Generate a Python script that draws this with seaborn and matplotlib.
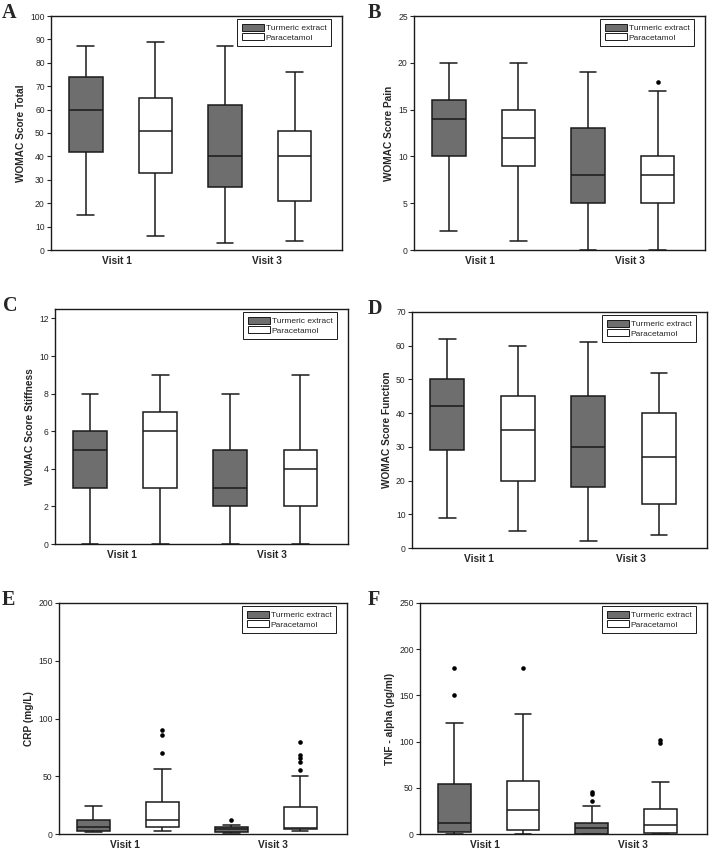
import matplotlib
matplotlib.use("Agg")
import pandas as pd
import matplotlib.pyplot as plt
from matplotlib.patches import Patch
import seaborn as sns

# Groups / categories
GROUPS = ["Turmeric extract", "Paracetamol"]
VISITS = ["Visit 1", "Visit 3"]
BOXES = ["V1 Turmeric", "V1 Paracetamol", "V3 Turmeric", "V3 Paracetamol"]
BOX_GROUP = ["Turmeric extract", "Paracetamol", "Turmeric extract", "Paracetamol"]

# Five-number summaries:
# [lower whisker, Q1, median, Q3, upper whisker] for each box in BOXES order
womac_total = [[15, 42, 60, 74, 87], [6, 33, 51, 65, 89],
               [3, 27, 40, 62, 87], [4, 21, 40, 51, 76]]
womac_pain = [[2, 10, 14, 16, 20], [1, 9, 12, 15, 20],
              [0, 5, 8, 13, 19], [0, 5, 8, 10, 17]]
womac_stiff = [[0, 3, 5, 6, 8], [0, 3, 6, 7, 9],
               [0, 2, 3, 5, 8], [0, 2, 4, 5, 9]]
womac_func = [[9, 29, 42, 50, 62], [5, 20, 35, 45, 60],
              [2, 18, 30, 45, 61], [4, 13, 27, 40, 52]]
crp = [[2, 3, 6, 12, 24], [3, 6, 12, 28, 56],
       [1, 2, 4, 6, 8], [3, 4.6, 5.5, 23, 50]]
tnf = [[0, 2, 12, 54, 120], [0, 4.5, 26, 57, 130],
       [0, 0.3, 6, 12, 30], [0, 0.7, 9.5, 27, 56]]

# Outliers (points) for each box
pain_out = [[], [], [], [18]]
crp_out = [[], [70, 86, 90], [12], [55, 62, 66, 68, 80]]
tnf_out = [[150, 180], [180], [36, 43, 45], [98, 102]]
no_out = [[], [], [], []]

# letter, letter x (px), y label, y limit, y tick step, summary, outliers,
# axes rect (px: left, top, right, bottom)
panels = [
    ("A", 2, "WOMAC Score Total", (0, 100), 10, womac_total, no_out, (51, 16, 342, 250)),
    ("B", 368, "WOMAC Score Pain", (0, 25), 5, womac_pain, pain_out, (414, 16, 705, 250)),
    ("C", 3, "WOMAC Score Stiffness", (0, 12.5), 2, womac_stiff, no_out, (55, 309, 348, 544)),
    ("D", 368, "WOMAC Score Function", (0, 70), 10, womac_func, no_out, (412, 312, 707, 548)),
    ("E", 2, "CRP (mg/L)", (0, 200), 50, crp, crp_out, (59, 603, 347, 834)),
    ("F", 368, "TNF - alpha (pg/ml)", (0, 250), 50, tnf, tnf_out, (420, 603, 707, 834)),
]

PALETTE = {"Turmeric extract": "#6e6e6e", "Paracetamol": "white"}

W, H = 709, 851
sns.set_style("ticks")
plt.rcParams["font.family"] = ["Liberation Sans", "DejaVu Sans"]

fig = plt.figure(figsize=(W / 100, H / 100), dpi=100)

for letter, lx, ylabel, ylim, step, summary, outliers, (l, t, r, b) in panels:
    ax = fig.add_axes([l / W, 1 - b / H, (r - l) / W, (b - t) / H])

    df = pd.DataFrame({
        "box": [bx for bx, vals in zip(BOXES, summary) for _ in vals],
        "group": [g for g, vals in zip(BOX_GROUP, summary) for _ in vals],
        "value": [v for vals in summary for v in vals],
    })
    sns.boxplot(data=df, x="box", y="value", hue="group", order=BOXES,
                hue_order=GROUPS, palette=PALETTE, dodge=False, width=0.48,
                whis=(0, 100), showfliers=False, linecolor="#1a1a1a",
                linewidth=1.1, legend=False, ax=ax)

    df_out = pd.DataFrame({
        "box": [bx for bx, vals in zip(BOXES, outliers) for _ in vals],
        "value": [v for vals in outliers for v in vals],
    })
    if len(df_out):
        sns.stripplot(data=df_out, x="box", y="value", order=BOXES, jitter=False,
                      color="black", size=3.3, ax=ax)

    ax.set_xlim(-0.5, 3.68)
    ax.set_ylim(*ylim)
    ticks = [i * step for i in range(int(ylim[1] // step) + 1)]
    ax.set_yticks(ticks)
    ax.set_yticklabels([f"{v:g}" for v in ticks], fontsize=6.2)
    ax.set_xticks([0.45, 2.6])
    ax.set_xticklabels(VISITS, fontsize=7.3, fontweight="bold")
    ax.tick_params(axis="x", length=0, pad=4)
    ax.tick_params(axis="y", length=3, width=0.8, pad=1.5)
    ax.set_xlabel("")
    ax.set_ylabel(ylabel, fontsize=7.3, fontweight="bold", labelpad=3)
    for sp in ax.spines.values():
        sp.set_visible(True)
        sp.set_linewidth(1.0)
        sp.set_color("#1a1a1a")

    handles = [Patch(facecolor=PALETTE[g], edgecolor="#1a1a1a", linewidth=0.7) for g in GROUPS]
    aw, ah = r - l, b - t
    ax.legend(handles, GROUPS, loc="upper right",
              bbox_to_anchor=(1 - 11 / aw, 1 - 3 / ah), borderaxespad=0,
              fontsize=6.0, frameon=True, fancybox=False, edgecolor="#1a1a1a",
              framealpha=1, handlelength=2.7, handleheight=1.0,
              handletextpad=0.15, labelspacing=0.1, borderpad=0.55)
    ax.get_legend().get_frame().set_linewidth(0.7)

    fig.text(lx / W, 1 - (t - 13) / H, letter, fontsize=14.5, fontweight="bold",
             family=["Liberation Serif", "DejaVu Serif"], va="top", ha="left")

fig.savefig("out.png", dpi=100)
